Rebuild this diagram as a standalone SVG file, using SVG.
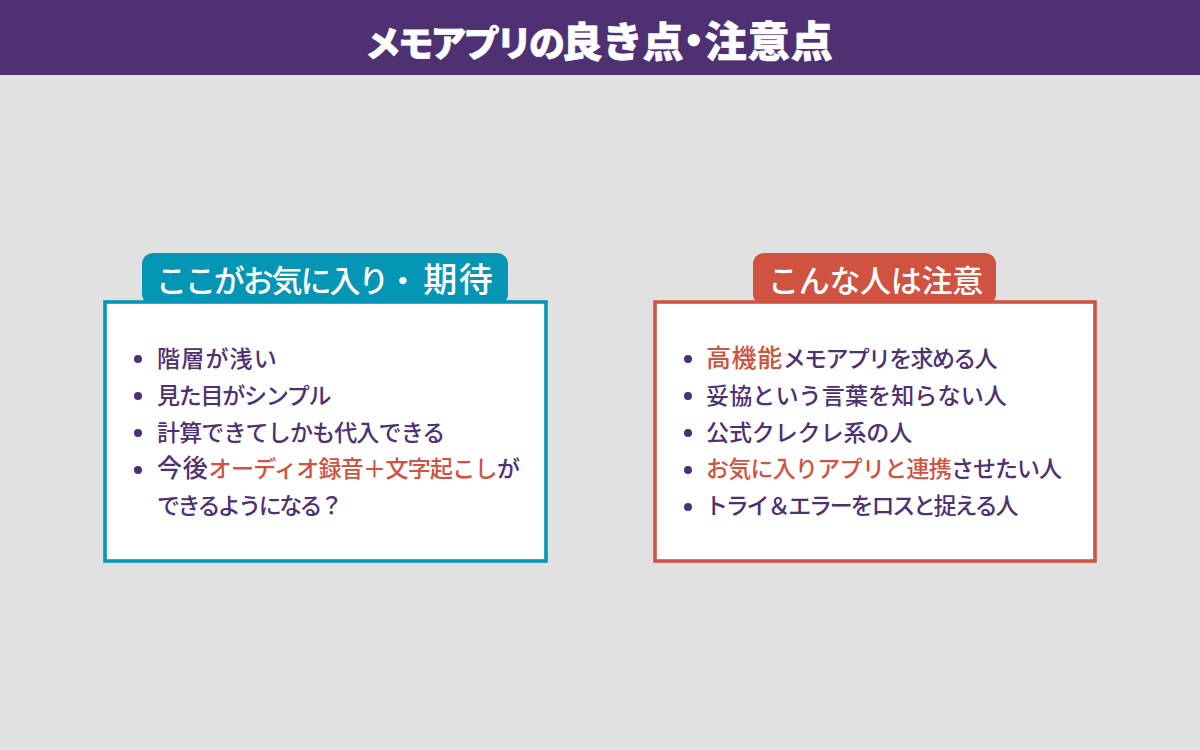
<svg xmlns="http://www.w3.org/2000/svg" width="1200" height="750" viewBox="0 0 1200 750">
<style>
text{font-family:"Noto Sans CJK JP","Noto Sans",sans-serif}
.t{font-size:23px;font-weight:500;fill:#4e3073}
.o{fill:#cf5340}
.k{font-size:25px}
.h{font-size:31px;font-weight:500;fill:#fff}
.d{fill:#4e3073}
.box{fill:#fff;stroke-width:3.6}
.ti{font-weight:900;fill:#fff;stroke:#fff;stroke-width:.6;stroke-linejoin:round}
</style>
<rect width="1200" height="750" fill="#e1e1e1"/>
<rect width="1200" height="75" fill="#4e3073"/>
<text class="ti" x="365" y="57"><tspan font-size="36" letter-spacing="-3.2">メモアプリの</tspan><tspan font-size="41" letter-spacing="-.7">良き点</tspan><tspan font-size="22" stroke-width="6" dy="-9">・</tspan><tspan font-size="42" letter-spacing="1" dy="9">注意点</tspan></text>
<g id="left">
<rect x="142" y="253" width="366" height="52" rx="11" fill="#0596b6"/>
<rect class="box" x="105" y="302" width="441" height="259" stroke="#0596b6"/>
<text class="h" x="156" y="292"><tspan letter-spacing="-2.1">ここがお気に入り</tspan><tspan letter-spacing="5">・</tspan><tspan font-size="34" letter-spacing="1.5">期待</tspan></text>
<g class="d"><circle cx="138" cy="359" r="4"/><circle cx="138" cy="396" r="4"/><circle cx="138" cy="433" r="4"/><circle cx="138" cy="470" r="4"/></g>
<text class="t" x="157" y="367" letter-spacing="1.2">階層が浅い</text>
<text class="t" x="157" y="404" letter-spacing="-1.25">見た目がシンプル</text>
<text class="t" x="157" y="441" letter-spacing="-.85">計算できてしかも代入できる</text>
<text class="t" x="157" y="477"><tspan class="k" letter-spacing=".8">今後</tspan><tspan class="o" letter-spacing="-.7">オーディオ録音＋文字起こし</tspan><tspan letter-spacing="-2">が</tspan></text>
<text class="t" x="157" y="514" letter-spacing="-2.56">できるようになる？</text>
</g>
<g id="right">
<rect x="753" y="253" width="243" height="52" rx="11" fill="#cf5340"/>
<rect class="box" x="655" y="302" width="440" height="259" stroke="#cf5340"/>
<text class="h" x="768" y="292" letter-spacing="-.3">こんな人は注意</text>
<g class="d"><circle cx="688" cy="359" r="4"/><circle cx="688" cy="396" r="4"/><circle cx="688" cy="433" r="4"/><circle cx="688" cy="470" r="4"/><circle cx="688" cy="507" r="4"/></g>
<text class="t" x="706" y="367"><tspan class="o k" letter-spacing=".6">高機能</tspan><tspan letter-spacing="-1.7">メモアプリを求める人</tspan></text>
<text class="t" x="706" y="404" letter-spacing=".15">妥協という言葉を知らない人</text>
<text class="t" x="706" y="441" letter-spacing="-.1">公式クレクレ系の人</text>
<text class="t" x="706" y="477"><tspan class="o" letter-spacing="-.73">お気に入りアプリと連携</tspan><tspan letter-spacing="-1">させたい人</tspan></text>
<text class="t" x="705" y="514" letter-spacing="-2.2">トライ＆エラーをロスと捉える人</text>
</g>
</svg>
